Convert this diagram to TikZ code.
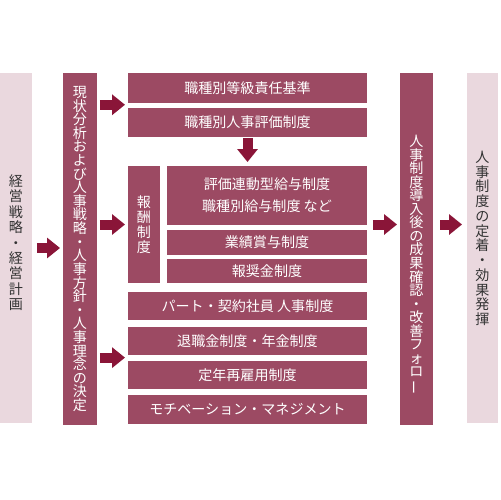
\documentclass[tikz,border=0pt]{standalone}
\usepackage{fontspec}
\usepackage{graphicx}
\setmainfont{Noto Sans CJK JP}
\usetikzlibrary{arrows.meta, positioning}

\definecolor{boxred}{HTML}{9C4A63}
\definecolor{arrowred}{HTML}{8A1538}
\definecolor{palepink}{HTML}{EAD8DE}
\definecolor{textgray}{HTML}{333333}

\newcommand{\tatebar}{\rotatebox[origin=c]{90}{ー}}

\begin{document}
\begin{tikzpicture}[
    x=0.02cm, y=-0.02cm,
    darkbox/.style={rectangle, fill=boxred, text=white, inner sep=0pt, outer sep=0pt, align=center, font=\fontsize{8}{12.5}\selectfont},
    palebox/.style={rectangle, fill=palepink, inner sep=0pt, outer sep=0pt},
    vtext/.style={inner sep=0pt, align=center, font=\fontsize{8}{#1}\selectfont},
    bigarrow/.style={draw=arrowred, line width=0.2cm, -{Triangle[length=0.26cm, width=0.4cm]}}
]
    \path[use as bounding box, fill=white] (0,0) rectangle (500,500);

    % Left columns
    \node[palebox, minimum width=0.64cm, minimum height=7.0cm] (plan) at (16,248) {};
    \node[vtext=8.8pt, text=textgray] (plantxt) at ([yshift=3pt]plan.center) {経\\営\\戦\\略\\・\\経\\営\\計\\画};
    \node[darkbox, minimum width=0.68cm, minimum height=7.04cm] (policy) at (80,249) {};
    \node[vtext=7.75pt, text=white] (policytxt) at (policy.center) {現\\状\\分\\析\\お\\よ\\び\\人\\事\\戦\\略\\・\\人\\事\\方\\針\\・\\人\\事\\理\\念\\の\\決\\定};

    % Grade and evaluation
    \node[darkbox, minimum width=4.78cm, minimum height=0.6cm] (grade) at (247.5,88) {職種別等級責任基準};
    \node[darkbox, minimum width=4.78cm, minimum height=0.58cm] (evalsys) at (247.5,122.5) {職種別人事評価制度};

    % Pay system
    \node[darkbox, minimum width=0.64cm, minimum height=2.34cm] (pay) at (144,224.5) {};
    \node[vtext=8.5pt, text=white] (paytxt) at (pay.center) {報\\酬\\制\\度};
    \node[darkbox, minimum width=4.0cm, minimum height=1.18cm] (salary) at (267,195.5) {評価連動型給与制度\\職種別給与制度 など};
    \node[darkbox, minimum width=4.0cm, minimum height=0.5cm] (bonus) at (267,242.5) {業績賞与制度};
    \node[darkbox, minimum width=4.0cm, minimum height=0.48cm] (reward) at (267,271) {報奨金制度};

    % Other systems
    \node[darkbox, minimum width=4.78cm, minimum height=0.56cm] (parttime) at (247.5,306) {パート・契約社員 人事制度};
    \node[darkbox, minimum width=4.78cm, minimum height=0.56cm] (retire) at (247.5,341) {退職金制度・年金制度};
    \node[darkbox, minimum width=4.78cm, minimum height=0.56cm] (rehire) at (247.5,375) {定年再雇用制度};
    \node[darkbox, minimum width=4.78cm, minimum height=0.58cm] (motive) at (247.5,409.5) {モチベーション・マネジメント};

    % Right columns
    \node[darkbox, minimum width=0.66cm, minimum height=7.04cm] (follow) at (416.5,249) {};
    \node[vtext=7.7pt, text=white] (followtxt) at ([yshift=-9pt]follow.center) {人\\事\\制\\度\\導\\入\\後\\の\\成\\果\\確\\認\\・\\改\\善\\フ\\ォ\\ロ\\\tatebar};
    \node[palebox, minimum width=0.62cm, minimum height=7.0cm] (result) at (482.5,248) {};
    \node[vtext=8.4pt, text=textgray] (resulttxt) at ([yshift=5.5pt]result.center) {人\\事\\制\\度\\の\\定\\着\\・\\効\\果\\発\\揮};

    % Arrows
    \draw[bigarrow, shorten <=0.1cm, shorten >=0.06cm] (plan.east) -- (policy.west |- plan.east);
    \draw[bigarrow, shorten <=0.06cm, shorten >=0.06cm] ([yshift=-1pt]policy.east |- grade.south) -- ([yshift=-1pt]grade.south west);
    \draw[bigarrow, shorten <=0.06cm, shorten >=0.06cm] (policy.east |- pay.west) -- (pay.west);
    \draw[bigarrow, shorten <=0.06cm, shorten >=0.06cm] ([yshift=-1.5pt]policy.east |- retire.south) -- ([yshift=-1.5pt]retire.south west);
    \draw[bigarrow, shorten <=0.02cm, shorten >=0.08cm] (evalsys.south) -- (evalsys.south |- salary.north);
    \draw[bigarrow, shorten <=0.12cm, shorten >=0.06cm] (salary.east |- pay.east) -- (follow.west |- pay.east);
    \draw[bigarrow, shorten <=0.14cm, shorten >=0.1cm] (follow.east |- pay.east) -- (result.west |- pay.east);
\end{tikzpicture}
\end{document}
